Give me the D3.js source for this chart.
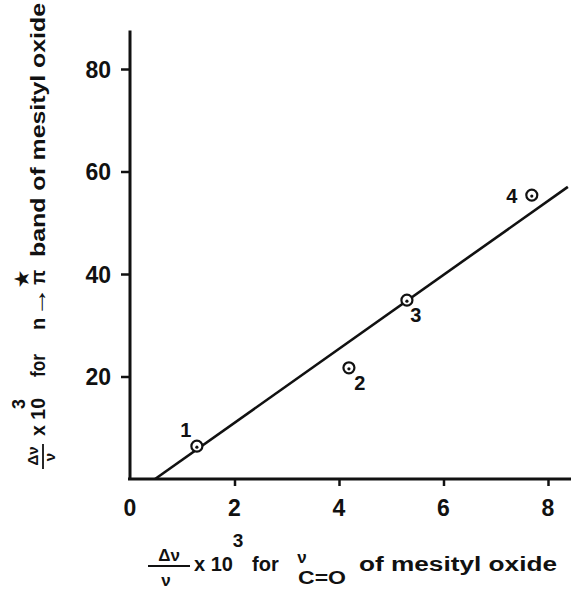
<!DOCTYPE html>
<html>
<head>
<meta charset="utf-8">
<script src="https://cdn.jsdelivr.net/npm/d3@7"></script>
<style>
  body { margin: 0; background: #fff; }
  text { font-family: "Liberation Sans", Arial, sans-serif; font-weight: bold; fill: #111; }
</style>
</head>
<body>
<script>
// points
const pointLabels = ["1", "2", "3", "4"]
const pointX = [1.28, 4.19, 5.30, 7.69]
const pointY = [6.4, 21.7, 34.9, 55.4]

// fitted straight line, two ends
const lineX = [0.48, 8.38]
const lineY = [0, 57.0]

const xTicks = [0, 2, 4, 6, 8]
const yTicks = [20, 40, 60, 80]

const w = 571
const h = 589

const x = d3.scaleLinear().domain([0, 8]).range([130, 548])
const y = d3.scaleLinear().domain([0, 80]).range([479, 69])

const svg = d3.select("body")
  .append("svg")
  .attr("width", w)
  .attr("height", h)

const ink = "#111"

// axes
const gx = svg.append("g")
  .attr("transform", `translate(0,${y(0)})`)
  .call(d3.axisBottom(x).tickValues(xTicks.slice(1)).tickSize(7).tickFormat(""))
gx.select(".domain").remove()
gx.selectAll("line").attr("stroke", ink).attr("stroke-width", 2.5)

const gy = svg.append("g")
  .attr("transform", `translate(${x(0)},0)`)
  .call(d3.axisLeft(y).tickValues(yTicks).tickSize(9).tickPadding(10))
gy.select(".domain").remove()
gy.selectAll("line").attr("stroke", ink).attr("stroke-width", 2.5)
gy.selectAll("text").attr("font-size", 23).attr("font-family", "Liberation Sans").attr("dy", "0.36em")

// x tick labels (0 sits under the axis corner)
svg.selectAll(".xl")
  .data(xTicks)
  .enter()
  .append("text")
  .attr("x", d => x(d))
  .attr("y", 516)
  .attr("text-anchor", "middle")
  .attr("font-size", 23)
  .text(d => d)

// axis lines
svg.append("line")
  .attr("x1", x(0) - 2).attr("x2", w)
  .attr("y1", y(0)).attr("y2", y(0))
  .attr("stroke", ink).attr("stroke-width", 3)
svg.append("line")
  .attr("x1", x(0)).attr("x2", x(0))
  .attr("y1", y(0)).attr("y2", y(87.5))
  .attr("stroke", ink).attr("stroke-width", 3)

// fit line
svg.append("line")
  .attr("x1", x(lineX[0])).attr("y1", y(lineY[0]))
  .attr("x2", x(lineX[1])).attr("y2", y(lineY[1]))
  .attr("stroke", ink).attr("stroke-width", 2.6)

// points
const pts = d3.range(pointX.length)
svg.selectAll(".pt")
  .data(pts)
  .enter()
  .append("circle")
  .attr("cx", i => x(pointX[i]))
  .attr("cy", i => y(pointY[i]))
  .attr("r", 5.5)
  .attr("fill", "#fff")
  .attr("stroke", ink)
  .attr("stroke-width", 2.2)
svg.selectAll(".dot")
  .data(pts)
  .enter()
  .append("circle")
  .attr("cx", i => x(pointX[i]))
  .attr("cy", i => y(pointY[i]) + 1)
  .attr("r", 1.6)
  .attr("fill", ink)

// point numbers, offsets from each marker
const labOff = [[-11, -9], [11, 22], [9, 22], [-20, 8]]
svg.selectAll(".pl")
  .data(pts)
  .enter()
  .append("text")
  .attr("x", i => x(pointX[i]) + labOff[i][0])
  .attr("y", i => y(pointY[i]) + labOff[i][1])
  .attr("text-anchor", "middle")
  .attr("font-size", 20)
  .text(i => pointLabels[i])

// x axis title
const xt = svg.append("g")
xt.append("text").attr("x", 169).attr("y", 561).attr("text-anchor", "middle").attr("font-size", 17).attr("font-family", "DejaVu Sans").text("Δν")
xt.append("line").attr("x1", 148).attr("x2", 190).attr("y1", 566).attr("y2", 566).attr("stroke", ink).attr("stroke-width", 1.8)
xt.append("text").attr("x", 166).attr("y", 586).attr("text-anchor", "middle").attr("font-size", 17).attr("font-family", "DejaVu Sans").text("ν")
xt.append("text").attr("x", 194).attr("y", 571).attr("font-size", 20).text("x 10")
xt.append("text").attr("x", 238).attr("y", 547).attr("text-anchor", "middle").attr("font-size", 19).text("3")
xt.append("text").attr("x", 252).attr("y", 571).attr("font-size", 20).text("for")
xt.append("text").attr("x", 302).attr("y", 563).attr("text-anchor", "middle").attr("font-size", 17).attr("font-family", "DejaVu Sans").text("ν")
xt.append("text").attr("x", 298).attr("y", 584).attr("font-size", 19).attr("textLength", 48).attr("lengthAdjust", "spacingAndGlyphs").text("C=O")
xt.append("text").attr("x", 359).attr("y", 571).attr("font-size", 20).attr("textLength", 198).attr("lengthAdjust", "spacingAndGlyphs").text("of mesityl oxide")

// y axis title, rotated
const yt = svg.append("g").attr("transform", "rotate(-90)")
yt.append("text").attr("x", -456).attr("y", 38).attr("text-anchor", "middle").attr("font-size", 15).attr("font-family", "DejaVu Sans").text("Δν")
yt.append("line").attr("x1", -469).attr("x2", -444).attr("y1", 43).attr("y2", 43).attr("stroke", ink).attr("stroke-width", 1.8)
yt.append("text").attr("x", -457).attr("y", 55).attr("text-anchor", "middle").attr("font-size", 15).attr("font-family", "DejaVu Sans").text("ν")
yt.append("text").attr("x", -436).attr("y", 45).attr("font-size", 20).attr("textLength", 38).attr("lengthAdjust", "spacingAndGlyphs").text("x 10")
yt.append("text").attr("x", -404).attr("y", 25).attr("text-anchor", "middle").attr("font-size", 18).text("3")
yt.append("text").attr("x", -377).attr("y", 45).attr("font-size", 20).attr("textLength", 23).attr("lengthAdjust", "spacingAndGlyphs").text("for")
yt.append("text").attr("x", -330).attr("y", 45).attr("font-size", 20).text("n")
yt.append("text").attr("x", -317).attr("y", 46).attr("font-size", 24).attr("font-family", "DejaVu Sans").attr("textLength", 30).attr("lengthAdjust", "spacingAndGlyphs").text("→")
yt.append("text").attr("x", -285).attr("y", 45).attr("font-size", 20).attr("font-family", "DejaVu Sans").text("π")
yt.append("text").attr("x", -279).attr("y", 28).attr("text-anchor", "middle").attr("font-size", 18).attr("font-family", "DejaVu Sans").text("★")
yt.append("text").attr("x", -257).attr("y", 45).attr("font-size", 20).attr("textLength", 254).attr("lengthAdjust", "spacingAndGlyphs").text("band of mesityl oxide")
</script>
</body>
</html>
